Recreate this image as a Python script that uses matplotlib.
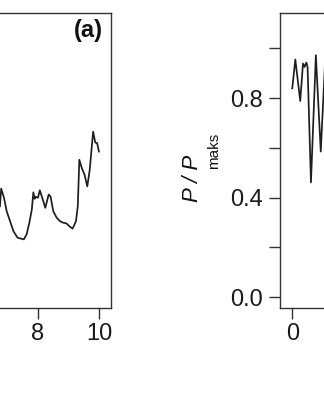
import matplotlib
matplotlib.use("Agg")
import matplotlib.pyplot as plt

plt.rcParams["font.family"] = ["Liberation Sans", "DejaVu Sans"]

# ----------------------------------------------------------
# Data
# ----------------------------------------------------------

# panel (a): only the tail (x > 6.7) is inside the crop
x_a = [6.77, 6.81, 6.90, 6.99, 7.10, 7.21, 7.34, 7.45, 7.55, 7.64,
       7.73, 7.81, 7.86, 7.90, 7.94, 8.01, 8.07, 8.14, 8.25, 8.36,
       8.42, 8.51, 8.62, 8.73, 8.83, 8.94, 9.05, 9.14, 9.25, 9.31,
       9.36, 9.44, 9.53, 9.62, 9.70, 9.81, 9.88, 9.94, 10.0]
y_a = [0.365, 0.436, 0.400, 0.345, 0.305, 0.265, 0.239, 0.235, 0.232, 0.252,
       0.299, 0.352, 0.421, 0.395, 0.403, 0.399, 0.429, 0.403, 0.359, 0.412,
       0.405, 0.345, 0.319, 0.305, 0.299, 0.296, 0.283, 0.275, 0.305, 0.365,
       0.552, 0.519, 0.492, 0.445, 0.512, 0.665, 0.621, 0.619, 0.585]

# panel (b): only the start (x < 1.1) is inside the crop
x_b = [0.0, 0.10, 0.26, 0.35, 0.40, 0.46, 0.50, 0.61, 0.77, 0.93, 1.08]
y_b = [0.839, 0.955, 0.788, 0.939, 0.925, 0.943, 0.925, 0.461, 0.972, 0.585, 0.97]

xticks = [0, 2, 4, 6, 8, 10]
# labels that fall outside the cropped picture are left blank
xticklabels_a = ["", "", "", "", "8", "10"]
xticklabels_b = ["0", "", "", "", "", ""]
yticks = [0.0, 0.2, 0.4, 0.6, 0.8, 1.0]
yticklabels_b = ["0.0", "", "0.4", "", "0.8", ""]

# ----------------------------------------------------------
# Figure
# ----------------------------------------------------------

W, H = 324, 400
fig = plt.figure(figsize=(W / 100, H / 100), dpi=100)

LINE = "#1e1e1e"
AX = "#333333"

bottom = (H - 308) / H
height = (308 - 12.5) / H
width = 331 / W

ax_a = fig.add_axes([-219.8 / W, bottom, width, height])
ax_b = fig.add_axes([280 / W, bottom, width, height])

for ax in (ax_a, ax_b):
    ax.set_xlim(-0.4, 10.4)
    ax.set_ylim(-0.044, 1.144)
    ax.set_xticks(xticks)
    ax.set_yticks(yticks)
    for s in ax.spines.values():
        s.set_color(AX)
        s.set_linewidth(1.0)
    ax.tick_params(direction="out", length=8, width=1.0, color=AX,
                   labelsize=17, labelcolor="#1a1a1a", pad=3)
    ax.tick_params(axis="y", pad=4)

ax_a.set_xticklabels(xticklabels_a)
ax_a.set_yticklabels([""] * len(yticks))
ax_b.set_xticklabels(xticklabels_b)
ax_b.set_yticklabels(yticklabels_b)

ax_a.plot(x_a, y_a, color=LINE, linewidth=1.25)
ax_a.text(0.975, 0.94, "(a)", transform=ax_a.transAxes, ha="right", va="center",
          fontsize=17, fontweight="bold", color="#111111")

ax_b.plot(x_b, y_b, color=LINE, linewidth=1.25)

# y label of panel (b): P / P_maks
fig.text(193 / W, 1 - 178 / H, "P / P", rotation=90, ha="center", va="center",
         fontsize=16, fontstyle="italic", color="#111111")
fig.text(214 / W, 1 - 151 / H, "maks", rotation=90, ha="center", va="center",
         fontsize=11, color="#111111")

fig.savefig("out.png", dpi=100)
